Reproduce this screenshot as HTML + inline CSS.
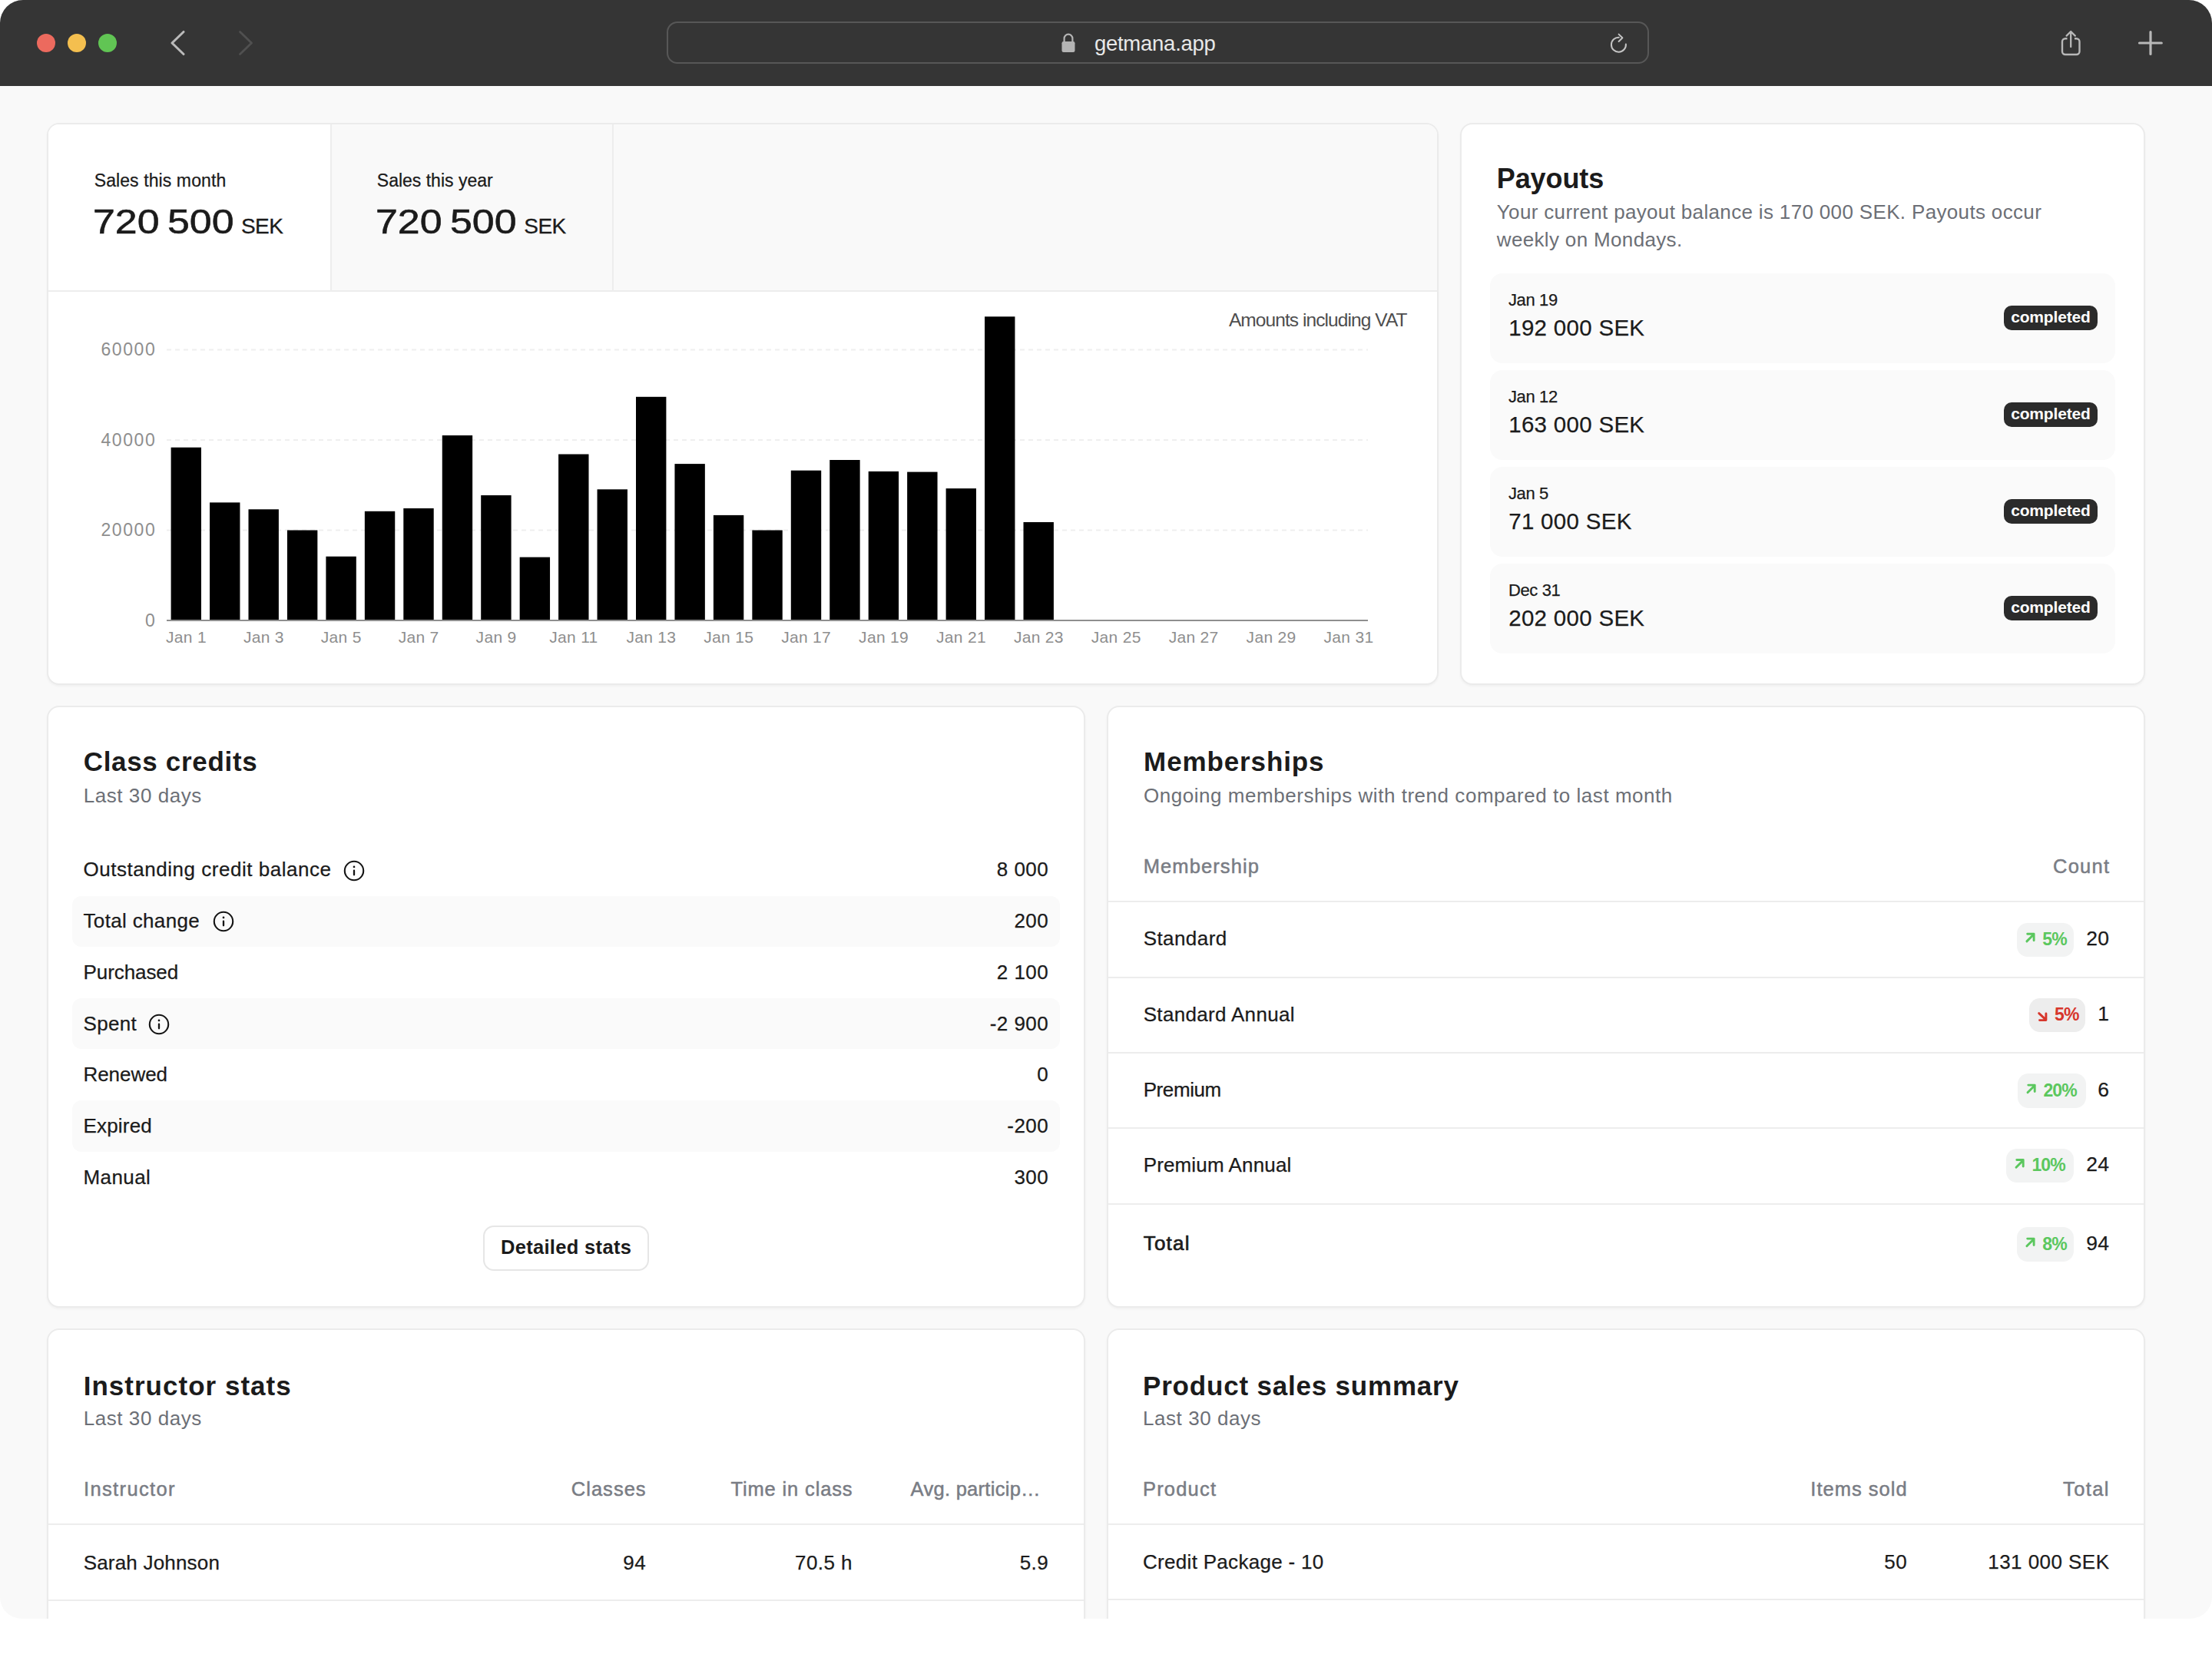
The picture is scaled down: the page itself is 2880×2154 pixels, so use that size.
<!DOCTYPE html>
<html><head><meta charset="utf-8"><title>getmana.app</title>
<style>
html,body{margin:0;padding:0;background:#ffffff;}
body{width:2880px;height:2154px;overflow:hidden;position:relative;font-family:"Liberation Sans", Arial, sans-serif;}
#win{position:absolute;left:0;top:0;width:2880px;height:2108px;overflow:hidden;border-radius:30px 30px 28px 28px;background:#f9f9f9;}
#win div, #win span, #win svg{position:absolute;}
.t{white-space:nowrap;}
</style></head><body><div id="win">
<div style="left:0px;top:0px;width:2880px;height:112px;background:#353535;"></div>
<div style="left:48px;top:44px;width:24px;height:24px;background:#ec6a5e;border-radius:50%;"></div>
<div style="left:88px;top:44px;width:24px;height:24px;background:#f4bf4f;border-radius:50%;"></div>
<div style="left:128px;top:44px;width:24px;height:24px;background:#61c554;border-radius:50%;"></div>
<svg style="left:0;top:0" width="400" height="112" viewBox="0 0 400 112"><polyline points="239,41.5 224,56 239,70.5" fill="none" stroke="#bababa" stroke-width="3.1" stroke-linecap="round" stroke-linejoin="round"/><polyline points="312.5,41.5 327.5,56 312.5,70.5" fill="none" stroke="#505050" stroke-width="2.8" stroke-linecap="round" stroke-linejoin="round"/></svg>
<div style="left:868px;top:28px;width:1279px;height:55px;box-sizing:border-box;border:2px solid #575757;border-radius:14px;"></div>
<svg style="left:1376px;top:40px" width="30" height="32" viewBox="1376 40 30 32"><path d="M1385.6,54.5 V50 a5.4,5.4 0 0 1 10.8,0 V54.5" fill="none" stroke="#b4b4b4" stroke-width="2.2"/><rect x="1382.5" y="54" width="17" height="14" rx="2.2" fill="#b4b4b4"/></svg>
<span class="t" style="left:1424.90px;top:39.87px;font-size:27.5px;line-height:34px;color:#e8e8e8;font-weight:400;letter-spacing:-0.254px;">getmana.app</span>
<svg style="left:2090px;top:38px" width="36" height="36" viewBox="2090 38 36 36"><path d="M2116.9,57.5 A9.5,9.5 0 1 1 2107.8,48.7" fill="none" stroke="#c4c4c4" stroke-width="2" stroke-linecap="round"/><polyline points="2107.6,44.6 2112.4,49.2 2107.6,54" fill="none" stroke="#c4c4c4" stroke-width="2" stroke-linecap="round" stroke-linejoin="round"/></svg>
<svg style="left:2676px;top:34px" width="40" height="44" viewBox="2676 34 40 44"><path d="M2691.5,50.2 H2689 a4,4 0 0 0 -4,4 V67 a4,4 0 0 0 4,4 H2703.5 a4,4 0 0 0 4,-4 V54.2 a4,4 0 0 0 -4,-4 H2701" fill="none" stroke="#b8b8b8" stroke-width="2.4"/><path d="M2696.2,61 V41.5 M2690.6,46.6 L2696.2,41 L2701.8,46.6" fill="none" stroke="#b8b8b8" stroke-width="2.3" stroke-linecap="round" stroke-linejoin="round"/></svg>
<svg style="left:2776px;top:34px" width="48" height="44" viewBox="2776 34 48 44"><path d="M2785.5,56 H2814.3 M2800,41.5 V70.5" fill="none" stroke="#b8b8b8" stroke-width="3.2" stroke-linecap="round"/></svg>
<div style="left:61px;top:160px;width:1812px;height:732px;box-sizing:border-box;background:#fff;border:2px solid #ebebeb;border-radius:16px;box-shadow:0 2px 3px rgba(0,0,0,0.035);"></div>
<div style="left:63px;top:162px;width:1808px;height:216px;background:#f9f9f9;border-radius:14px 14px 0 0;"></div>
<div style="left:63px;top:162px;width:367px;height:216px;background:#fff;border-radius:14px 0 0 0;"></div>
<div style="left:430px;top:162px;width:2px;height:216px;background:#ededed;"></div>
<div style="left:797px;top:162px;width:2px;height:216px;background:#ededed;"></div>
<div style="left:63px;top:378px;width:1808px;height:2px;background:#ededed;"></div>
<span class="t" style="left:122.70px;top:221.03px;font-size:23px;line-height:29px;color:#1b1b1b;font-weight:400;letter-spacing:0.098px;-webkit-text-stroke-width:0.25px;">Sales this month</span>
<span class="t" style="left:490.80px;top:221.03px;font-size:23px;line-height:29px;color:#1b1b1b;font-weight:400;-webkit-text-stroke-width:0.25px;">Sales this year</span>
<span class="t" style="left:120.70px;top:261.10px;font-size:45px;line-height:56px;color:#1b1b1b;font-weight:400;-webkit-text-stroke:0.6px #1b1b1b;transform:scaleX(1.153);transform-origin:0 0;word-spacing:-3.5px;">720 500</span>
<span class="t" style="left:314.00px;top:277.49px;font-size:28px;line-height:35px;color:#1b1b1b;font-weight:400;letter-spacing:-0.564px;-webkit-text-stroke:0.3px #1b1b1b;">SEK</span>
<span class="t" style="left:488.70px;top:261.10px;font-size:45px;line-height:56px;color:#1b1b1b;font-weight:400;-webkit-text-stroke:0.6px #1b1b1b;transform:scaleX(1.153);transform-origin:0 0;word-spacing:-3.5px;">720 500</span>
<span class="t" style="left:682.30px;top:277.49px;font-size:28px;line-height:35px;color:#1b1b1b;font-weight:400;letter-spacing:-0.564px;-webkit-text-stroke:0.3px #1b1b1b;">SEK</span>
<span class="t" style="left:1599.90px;top:400.81px;font-size:24.5px;line-height:31px;color:#4e4e4e;font-weight:400;letter-spacing:-0.921px;">Amounts including VAT</span>
<svg style="left:0;top:0" width="1880" height="900" viewBox="0 0 1880 900"><line x1="217" y1="455.5" x2="1781" y2="455.5" stroke="#efefef" stroke-width="2" stroke-dasharray="6 5"/><line x1="217" y1="573.0" x2="1781" y2="573.0" stroke="#efefef" stroke-width="2" stroke-dasharray="6 5"/><line x1="217" y1="690.5" x2="1781" y2="690.5" stroke="#efefef" stroke-width="2" stroke-dasharray="6 5"/><rect x="222.60" y="582.7" width="39.4" height="224.3" fill="#000"/><rect x="273.05" y="654.4" width="39.4" height="152.6" fill="#000"/><rect x="323.50" y="663.3" width="39.4" height="143.7" fill="#000"/><rect x="373.95" y="690.5" width="39.4" height="116.5" fill="#000"/><rect x="424.40" y="724.7" width="39.4" height="82.3" fill="#000"/><rect x="474.85" y="665.8" width="39.4" height="141.2" fill="#000"/><rect x="525.30" y="662.0" width="39.4" height="145.0" fill="#000"/><rect x="575.75" y="567.0" width="39.4" height="240.0" fill="#000"/><rect x="626.20" y="645.0" width="39.4" height="162.0" fill="#000"/><rect x="676.65" y="725.6" width="39.4" height="81.4" fill="#000"/><rect x="727.10" y="591.5" width="39.4" height="215.5" fill="#000"/><rect x="777.55" y="637.3" width="39.4" height="169.7" fill="#000"/><rect x="828.00" y="516.8" width="39.4" height="290.2" fill="#000"/><rect x="878.45" y="604.1" width="39.4" height="202.9" fill="#000"/><rect x="928.90" y="670.9" width="39.4" height="136.1" fill="#000"/><rect x="979.35" y="690.5" width="39.4" height="116.5" fill="#000"/><rect x="1029.80" y="612.7" width="39.4" height="194.3" fill="#000"/><rect x="1080.25" y="599.0" width="39.4" height="208.0" fill="#000"/><rect x="1130.70" y="613.9" width="39.4" height="193.1" fill="#000"/><rect x="1181.15" y="614.6" width="39.4" height="192.4" fill="#000"/><rect x="1231.60" y="636.1" width="39.4" height="170.9" fill="#000"/><rect x="1282.05" y="412.3" width="39.4" height="394.7" fill="#000"/><rect x="1332.50" y="680.0" width="39.4" height="127.0" fill="#000"/><rect x="217" y="807" width="1564" height="2" fill="#8f8f8f"/></svg>
<span class="t" style="left:131.50px;top:441.03px;font-size:23px;line-height:29px;color:#8e8e8e;font-weight:400;letter-spacing:1.561px;">60000</span>
<span class="t" style="left:131.50px;top:558.53px;font-size:23px;line-height:29px;color:#8e8e8e;font-weight:400;letter-spacing:1.561px;">40000</span>
<span class="t" style="left:131.50px;top:676.03px;font-size:23px;line-height:29px;color:#8e8e8e;font-weight:400;letter-spacing:1.561px;">20000</span>
<span class="t" style="left:188.91px;top:793.53px;font-size:23px;line-height:29px;color:#8e8e8e;font-weight:400;">0</span>
<span class="t" style="left:216.01px;top:817.22px;font-size:21px;line-height:26px;color:#8e8e8e;font-weight:400;letter-spacing:0.300px;">Jan 1</span>
<span class="t" style="left:316.91px;top:817.22px;font-size:21px;line-height:26px;color:#8e8e8e;font-weight:400;letter-spacing:0.300px;">Jan 3</span>
<span class="t" style="left:417.81px;top:817.22px;font-size:21px;line-height:26px;color:#8e8e8e;font-weight:400;letter-spacing:0.300px;">Jan 5</span>
<span class="t" style="left:518.71px;top:817.22px;font-size:21px;line-height:26px;color:#8e8e8e;font-weight:400;letter-spacing:0.300px;">Jan 7</span>
<span class="t" style="left:619.61px;top:817.22px;font-size:21px;line-height:26px;color:#8e8e8e;font-weight:400;letter-spacing:0.300px;">Jan 9</span>
<span class="t" style="left:715.30px;top:817.22px;font-size:21px;line-height:26px;color:#8e8e8e;font-weight:400;letter-spacing:0.300px;">Jan 11</span>
<span class="t" style="left:815.42px;top:817.22px;font-size:21px;line-height:26px;color:#8e8e8e;font-weight:400;letter-spacing:0.300px;">Jan 13</span>
<span class="t" style="left:916.32px;top:817.22px;font-size:21px;line-height:26px;color:#8e8e8e;font-weight:400;letter-spacing:0.300px;">Jan 15</span>
<span class="t" style="left:1017.22px;top:817.22px;font-size:21px;line-height:26px;color:#8e8e8e;font-weight:400;letter-spacing:0.300px;">Jan 17</span>
<span class="t" style="left:1118.12px;top:817.22px;font-size:21px;line-height:26px;color:#8e8e8e;font-weight:400;letter-spacing:0.300px;">Jan 19</span>
<span class="t" style="left:1219.02px;top:817.22px;font-size:21px;line-height:26px;color:#8e8e8e;font-weight:400;letter-spacing:0.300px;">Jan 21</span>
<span class="t" style="left:1319.92px;top:817.22px;font-size:21px;line-height:26px;color:#8e8e8e;font-weight:400;letter-spacing:0.300px;">Jan 23</span>
<span class="t" style="left:1420.82px;top:817.22px;font-size:21px;line-height:26px;color:#8e8e8e;font-weight:400;letter-spacing:0.300px;">Jan 25</span>
<span class="t" style="left:1521.72px;top:817.22px;font-size:21px;line-height:26px;color:#8e8e8e;font-weight:400;letter-spacing:0.300px;">Jan 27</span>
<span class="t" style="left:1622.62px;top:817.22px;font-size:21px;line-height:26px;color:#8e8e8e;font-weight:400;letter-spacing:0.300px;">Jan 29</span>
<span class="t" style="left:1723.52px;top:817.22px;font-size:21px;line-height:26px;color:#8e8e8e;font-weight:400;letter-spacing:0.300px;">Jan 31</span>
<div style="left:1901px;top:160px;width:892px;height:732px;box-sizing:border-box;background:#fff;border:2px solid #ebebeb;border-radius:16px;box-shadow:0 2px 3px rgba(0,0,0,0.035);"></div>
<span class="t" style="left:1948.80px;top:210.02px;font-size:36px;line-height:45px;color:#1b1b1b;font-weight:700;letter-spacing:-0.107px;">Payouts</span>
<span class="t" style="left:1948.80px;top:260.39px;font-size:26px;line-height:32px;color:#6c6f76;font-weight:400;letter-spacing:0.341px;">Your current payout balance is 170 000 SEK. Payouts occur</span>
<span class="t" style="left:1948.80px;top:296.49px;font-size:26px;line-height:32px;color:#6c6f76;font-weight:400;letter-spacing:0.340px;">weekly on Mondays.</span>
<div style="left:1939.5px;top:355.5px;width:814.0px;height:117.30000000000001px;background:#fafafa;border-radius:16px;"></div>
<span class="t" style="left:1963.90px;top:376.77px;font-size:22px;line-height:28px;color:#1b1b1b;font-weight:400;letter-spacing:-0.350px;-webkit-text-stroke-width:0.25px;">Jan 19</span>
<span class="t" style="left:1964.20px;top:408.07px;font-size:29.5px;line-height:37px;color:#1b1b1b;font-weight:400;letter-spacing:0.300px;-webkit-text-stroke:0.25px #1b1b1b;">192 000 SEK</span>
<div style="left:2609px;top:398.25px;width:122px;height:31.5px;background:#2b2b2b;border-radius:10px;"></div>
<span class="t" style="left:2618.20px;top:400.17px;font-size:21px;line-height:26px;color:#ffffff;font-weight:700;letter-spacing:-0.178px;">completed</span>
<div style="left:1939.5px;top:481.6px;width:814.0px;height:117.29999999999995px;background:#fafafa;border-radius:16px;"></div>
<span class="t" style="left:1963.90px;top:502.84px;font-size:22px;line-height:28px;color:#1b1b1b;font-weight:400;letter-spacing:-0.350px;-webkit-text-stroke-width:0.25px;">Jan 12</span>
<span class="t" style="left:1964.20px;top:534.14px;font-size:29.5px;line-height:37px;color:#1b1b1b;font-weight:400;letter-spacing:0.300px;-webkit-text-stroke:0.25px #1b1b1b;">163 000 SEK</span>
<div style="left:2609px;top:524.32px;width:122px;height:31.5px;background:#2b2b2b;border-radius:10px;"></div>
<span class="t" style="left:2618.20px;top:526.24px;font-size:21px;line-height:26px;color:#ffffff;font-weight:700;letter-spacing:-0.178px;">completed</span>
<div style="left:1939.5px;top:607.6px;width:814.0px;height:117.29999999999995px;background:#fafafa;border-radius:16px;"></div>
<span class="t" style="left:1963.90px;top:628.91px;font-size:22px;line-height:28px;color:#1b1b1b;font-weight:400;letter-spacing:-0.350px;-webkit-text-stroke-width:0.25px;">Jan 5</span>
<span class="t" style="left:1964.20px;top:660.21px;font-size:29.5px;line-height:37px;color:#1b1b1b;font-weight:400;letter-spacing:0.300px;-webkit-text-stroke:0.25px #1b1b1b;">71 000 SEK</span>
<div style="left:2609px;top:650.39px;width:122px;height:31.5px;background:#2b2b2b;border-radius:10px;"></div>
<span class="t" style="left:2618.20px;top:652.31px;font-size:21px;line-height:26px;color:#ffffff;font-weight:700;letter-spacing:-0.178px;">completed</span>
<div style="left:1939.5px;top:733.7px;width:814.0px;height:117.29999999999995px;background:#fafafa;border-radius:16px;"></div>
<span class="t" style="left:1963.90px;top:754.98px;font-size:22px;line-height:28px;color:#1b1b1b;font-weight:400;letter-spacing:-0.350px;-webkit-text-stroke-width:0.25px;">Dec 31</span>
<span class="t" style="left:1964.20px;top:786.28px;font-size:29.5px;line-height:37px;color:#1b1b1b;font-weight:400;letter-spacing:0.300px;-webkit-text-stroke:0.25px #1b1b1b;">202 000 SEK</span>
<div style="left:2609px;top:776.46px;width:122px;height:31.5px;background:#2b2b2b;border-radius:10px;"></div>
<span class="t" style="left:2618.20px;top:778.38px;font-size:21px;line-height:26px;color:#ffffff;font-weight:700;letter-spacing:-0.178px;">completed</span>
<div style="left:61px;top:919px;width:1352px;height:784px;box-sizing:border-box;background:#fff;border:2px solid #ebebeb;border-radius:16px;box-shadow:0 2px 3px rgba(0,0,0,0.035);"></div>
<span class="t" style="left:108.70px;top:969.97px;font-size:35px;line-height:44px;color:#1b1b1b;font-weight:700;letter-spacing:0.675px;">Class credits</span>
<span class="t" style="left:108.70px;top:1020.29px;font-size:26px;line-height:32px;color:#6c6f76;font-weight:400;letter-spacing:0.561px;">Last 30 days</span>
<span class="t" style="left:108.50px;top:1116.49px;font-size:26px;line-height:32px;color:#1b1b1b;font-weight:400;letter-spacing:0.528px;-webkit-text-stroke-width:0.25px;">Outstanding credit balance</span>
<span class="t" style="left:1297.84px;top:1116.49px;font-size:26px;line-height:32px;color:#1b1b1b;font-weight:400;letter-spacing:0.450px;-webkit-text-stroke-width:0.25px;">8 000</span>
<svg style="left:445.2px;top:1117.6px" width="32" height="32" viewBox="0 0 32 32"><circle cx="16" cy="16" r="12.2" fill="none" stroke="#141414" stroke-width="2.1"/><circle cx="16" cy="10.9" r="1.35" fill="#141414"/><line x1="16" y1="15.7" x2="16" y2="21.3" stroke="#141414" stroke-width="2.3" stroke-linecap="round"/></svg>
<div style="left:94px;top:1166.7px;width:1286px;height:66.29999999999995px;background:#fafafa;border-radius:12px;"></div>
<span class="t" style="left:108.50px;top:1183.16px;font-size:26px;line-height:32px;color:#1b1b1b;font-weight:400;letter-spacing:0.342px;-webkit-text-stroke-width:0.25px;">Total change</span>
<span class="t" style="left:1320.42px;top:1183.16px;font-size:26px;line-height:32px;color:#1b1b1b;font-weight:400;letter-spacing:0.450px;-webkit-text-stroke-width:0.25px;">200</span>
<svg style="left:274.6px;top:1184.3px" width="32" height="32" viewBox="0 0 32 32"><circle cx="16" cy="16" r="12.2" fill="none" stroke="#141414" stroke-width="2.1"/><circle cx="16" cy="10.9" r="1.35" fill="#141414"/><line x1="16" y1="15.7" x2="16" y2="21.3" stroke="#141414" stroke-width="2.3" stroke-linecap="round"/></svg>
<span class="t" style="left:108.50px;top:1249.83px;font-size:26px;line-height:32px;color:#1b1b1b;font-weight:400;letter-spacing:-0.075px;-webkit-text-stroke-width:0.25px;">Purchased</span>
<span class="t" style="left:1297.84px;top:1249.83px;font-size:26px;line-height:32px;color:#1b1b1b;font-weight:400;letter-spacing:0.450px;-webkit-text-stroke-width:0.25px;">2 100</span>
<div style="left:94px;top:1300.0px;width:1286px;height:66.29999999999995px;background:#fafafa;border-radius:12px;"></div>
<span class="t" style="left:108.50px;top:1316.50px;font-size:26px;line-height:32px;color:#1b1b1b;font-weight:400;letter-spacing:0.339px;-webkit-text-stroke-width:0.25px;">Spent</span>
<span class="t" style="left:1288.73px;top:1316.50px;font-size:26px;line-height:32px;color:#1b1b1b;font-weight:400;letter-spacing:0.450px;-webkit-text-stroke-width:0.25px;">-2 900</span>
<svg style="left:191.4px;top:1317.6px" width="32" height="32" viewBox="0 0 32 32"><circle cx="16" cy="16" r="12.2" fill="none" stroke="#141414" stroke-width="2.1"/><circle cx="16" cy="10.9" r="1.35" fill="#141414"/><line x1="16" y1="15.7" x2="16" y2="21.3" stroke="#141414" stroke-width="2.3" stroke-linecap="round"/></svg>
<span class="t" style="left:108.50px;top:1383.17px;font-size:26px;line-height:32px;color:#1b1b1b;font-weight:400;letter-spacing:-0.059px;-webkit-text-stroke-width:0.25px;">Renewed</span>
<span class="t" style="left:1350.24px;top:1383.17px;font-size:26px;line-height:32px;color:#1b1b1b;font-weight:400;letter-spacing:0.450px;-webkit-text-stroke-width:0.25px;">0</span>
<div style="left:94px;top:1433.3px;width:1286px;height:66.29999999999995px;background:#fafafa;border-radius:12px;"></div>
<span class="t" style="left:108.50px;top:1449.84px;font-size:26px;line-height:32px;color:#1b1b1b;font-weight:400;letter-spacing:0.191px;-webkit-text-stroke-width:0.25px;">Expired</span>
<span class="t" style="left:1311.31px;top:1449.84px;font-size:26px;line-height:32px;color:#1b1b1b;font-weight:400;letter-spacing:0.450px;-webkit-text-stroke-width:0.25px;">-200</span>
<span class="t" style="left:108.50px;top:1516.51px;font-size:26px;line-height:32px;color:#1b1b1b;font-weight:400;letter-spacing:0.405px;-webkit-text-stroke-width:0.25px;">Manual</span>
<span class="t" style="left:1320.42px;top:1516.51px;font-size:26px;line-height:32px;color:#1b1b1b;font-weight:400;letter-spacing:0.450px;-webkit-text-stroke-width:0.25px;">300</span>
<div style="left:628.6px;top:1595.8px;width:216.39999999999998px;height:58.90000000000009px;box-sizing:border-box;border:2px solid #e6e6e6;border-radius:14px;background:#fff;"></div>
<span class="t" style="left:651.90px;top:1608.36px;font-size:25.5px;line-height:32px;color:#1b1b1b;font-weight:700;letter-spacing:0.322px;">Detailed stats</span>
<div style="left:1441px;top:919px;width:1352px;height:784px;box-sizing:border-box;background:#fff;border:2px solid #ebebeb;border-radius:16px;box-shadow:0 2px 3px rgba(0,0,0,0.035);"></div>
<span class="t" style="left:1489.10px;top:970.07px;font-size:35px;line-height:44px;color:#1b1b1b;font-weight:700;letter-spacing:0.878px;">Memberships</span>
<span class="t" style="left:1489.00px;top:1019.59px;font-size:26px;line-height:32px;color:#6c6f76;font-weight:400;letter-spacing:0.536px;">Ongoing memberships with trend compared to last month</span>
<span class="t" style="left:1488.70px;top:1112.26px;font-size:25.5px;line-height:32px;color:#797c84;font-weight:400;letter-spacing:1.100px;-webkit-text-stroke-width:0.5px;">Membership</span>
<span class="t" style="left:2673.00px;top:1112.26px;font-size:25.5px;line-height:32px;color:#797c84;font-weight:400;letter-spacing:1.239px;-webkit-text-stroke-width:0.5px;">Count</span>
<div style="left:1443px;top:1172.5px;width:1348px;height:2.0px;background:#ededed;"></div>
<div style="left:1443px;top:1271.5px;width:1348px;height:2.0px;background:#ededed;"></div>
<div style="left:1443px;top:1369.5px;width:1348px;height:2.0px;background:#ededed;"></div>
<div style="left:1443px;top:1468px;width:1348px;height:2px;background:#ededed;"></div>
<div style="left:1443px;top:1566.6px;width:1348px;height:2.0px;background:#ededed;"></div>
<span class="t" style="left:1488.70px;top:1206.49px;font-size:26px;line-height:32px;color:#1b1b1b;font-weight:400;letter-spacing:0.425px;-webkit-text-stroke-width:0.25px;">Standard</span>
<div style="left:2625.7px;top:1201.5px;width:74.30000000000018px;height:44.5px;background:#f2f3f3;border-radius:14px;"></div>
<svg style="left:0;top:0;overflow:visible" width="1" height="1"><path d="M2638.9,1225.9 L2647.5,1217.3 M2639.7,1216.2 H2648.1 V1224.7" fill="none" stroke="#5bc75e" stroke-width="2.9" stroke-linecap="round" stroke-linejoin="round"/></svg>
<span class="t" style="left:2659.30px;top:1208.83px;font-size:23px;line-height:29px;color:#5bc75e;font-weight:700;letter-spacing:-0.900px;">5%</span>
<span class="t" style="left:2716.22px;top:1205.81px;font-size:26.5px;line-height:33px;color:#1b1b1b;font-weight:400;letter-spacing:0.300px;-webkit-text-stroke-width:0.25px;">20</span>
<span class="t" style="left:1488.70px;top:1304.59px;font-size:26px;line-height:32px;color:#1b1b1b;font-weight:400;letter-spacing:0.328px;-webkit-text-stroke-width:0.25px;">Standard Annual</span>
<div style="left:2641.5px;top:1299.6px;width:73.5px;height:44.5px;background:#ededed;border-radius:14px;"></div>
<svg style="left:0;top:0;overflow:visible" width="1" height="1"><path d="M2654.7,1319.6 L2663.3,1327.6 M2655.5,1328.6 H2663.9 V1320.0" fill="none" stroke="#d7362c" stroke-width="2.9" stroke-linecap="round" stroke-linejoin="round"/></svg>
<span class="t" style="left:2675.10px;top:1306.93px;font-size:23px;line-height:29px;color:#d7362c;font-weight:700;letter-spacing:-0.900px;">5%</span>
<span class="t" style="left:2731.26px;top:1303.91px;font-size:26.5px;line-height:33px;color:#1b1b1b;font-weight:400;letter-spacing:0.300px;-webkit-text-stroke-width:0.25px;">1</span>
<span class="t" style="left:1488.70px;top:1403.39px;font-size:26px;line-height:32px;color:#1b1b1b;font-weight:400;letter-spacing:-0.419px;-webkit-text-stroke-width:0.25px;">Premium</span>
<div style="left:2626.8px;top:1398.4px;width:88.89999999999964px;height:44.5px;background:#f2f3f3;border-radius:14px;"></div>
<svg style="left:0;top:0;overflow:visible" width="1" height="1"><path d="M2640.0,1422.8 L2648.6,1414.2 M2640.8,1413.1 H2649.2 V1421.6" fill="none" stroke="#5bc75e" stroke-width="2.9" stroke-linecap="round" stroke-linejoin="round"/></svg>
<span class="t" style="left:2660.40px;top:1405.73px;font-size:23px;line-height:29px;color:#5bc75e;font-weight:700;letter-spacing:-0.900px;">20%</span>
<span class="t" style="left:2731.26px;top:1402.71px;font-size:26.5px;line-height:33px;color:#1b1b1b;font-weight:400;letter-spacing:0.300px;-webkit-text-stroke-width:0.25px;">6</span>
<span class="t" style="left:1488.70px;top:1500.79px;font-size:26px;line-height:32px;color:#1b1b1b;font-weight:400;letter-spacing:0.139px;-webkit-text-stroke-width:0.25px;">Premium Annual</span>
<div style="left:2611.8px;top:1495.8px;width:87.89999999999964px;height:44.5px;background:#f2f3f3;border-radius:14px;"></div>
<svg style="left:0;top:0;overflow:visible" width="1" height="1"><path d="M2625.0,1520.2 L2633.6,1511.6 M2625.8,1510.5 H2634.2 V1519.0" fill="none" stroke="#5bc75e" stroke-width="2.9" stroke-linecap="round" stroke-linejoin="round"/></svg>
<span class="t" style="left:2645.40px;top:1503.13px;font-size:23px;line-height:29px;color:#5bc75e;font-weight:700;letter-spacing:-0.900px;">10%</span>
<span class="t" style="left:2716.22px;top:1500.11px;font-size:26.5px;line-height:33px;color:#1b1b1b;font-weight:400;letter-spacing:0.300px;-webkit-text-stroke-width:0.25px;">24</span>
<span class="t" style="left:1488.70px;top:1603.39px;font-size:26px;line-height:32px;color:#1b1b1b;font-weight:400;letter-spacing:1.220px;-webkit-text-stroke:0.7px #1b1b1b;">Total</span>
<div style="left:2625.7px;top:1598.4px;width:74.0px;height:44.5px;background:#f2f3f3;border-radius:14px;"></div>
<svg style="left:0;top:0;overflow:visible" width="1" height="1"><path d="M2638.9,1622.8 L2647.5,1614.2 M2639.7,1613.1 H2648.1 V1621.6" fill="none" stroke="#5bc75e" stroke-width="2.9" stroke-linecap="round" stroke-linejoin="round"/></svg>
<span class="t" style="left:2659.30px;top:1605.73px;font-size:23px;line-height:29px;color:#5bc75e;font-weight:700;letter-spacing:-0.900px;">8%</span>
<span class="t" style="left:2716.22px;top:1602.71px;font-size:26.5px;line-height:33px;color:#1b1b1b;font-weight:400;letter-spacing:0.300px;-webkit-text-stroke-width:0.25px;">94</span>
<div style="left:61px;top:1730px;width:1352px;height:470px;box-sizing:border-box;background:#fff;border:2px solid #ebebeb;border-radius:16px;box-shadow:0 2px 3px rgba(0,0,0,0.035);"></div>
<span class="t" style="left:108.70px;top:1782.87px;font-size:35px;line-height:44px;color:#1b1b1b;font-weight:700;letter-spacing:1.015px;">Instructor stats</span>
<span class="t" style="left:108.70px;top:1831.29px;font-size:26px;line-height:32px;color:#6c6f76;font-weight:400;letter-spacing:0.561px;">Last 30 days</span>
<span class="t" style="left:109.00px;top:1923.16px;font-size:25.5px;line-height:32px;color:#797c84;font-weight:400;letter-spacing:1.357px;-webkit-text-stroke-width:0.5px;">Instructor</span>
<span class="t" style="left:743.80px;top:1923.16px;font-size:25.5px;line-height:32px;color:#797c84;font-weight:400;letter-spacing:1.018px;-webkit-text-stroke-width:0.5px;">Classes</span>
<span class="t" style="left:951.40px;top:1923.16px;font-size:25.5px;line-height:32px;color:#797c84;font-weight:400;letter-spacing:0.864px;-webkit-text-stroke-width:0.5px;">Time in class</span>
<span class="t" style="left:1185.60px;top:1923.16px;font-size:25.5px;line-height:32px;color:#797c84;font-weight:400;letter-spacing:0.281px;-webkit-text-stroke-width:0.5px;">Avg. particip…</span>
<div style="left:63px;top:1983.5px;width:1348px;height:2.0px;background:#ededed;"></div>
<span class="t" style="left:108.70px;top:2018.69px;font-size:26px;line-height:32px;color:#1b1b1b;font-weight:400;letter-spacing:0.191px;-webkit-text-stroke-width:0.25px;">Sarah Johnson</span>
<span class="t" style="left:811.23px;top:2018.69px;font-size:26px;line-height:32px;color:#1b1b1b;font-weight:400;letter-spacing:0.450px;-webkit-text-stroke-width:0.25px;">94</span>
<span class="t" style="left:1035.06px;top:2018.69px;font-size:26px;line-height:32px;color:#1b1b1b;font-weight:400;letter-spacing:0.450px;-webkit-text-stroke-width:0.25px;">70.5 h</span>
<span class="t" style="left:1327.66px;top:2018.69px;font-size:26px;line-height:32px;color:#1b1b1b;font-weight:400;letter-spacing:0.450px;-webkit-text-stroke-width:0.25px;">5.9</span>
<div style="left:63px;top:2082.5px;width:1348px;height:2.0px;background:#ededed;"></div>
<div style="left:1441px;top:1730px;width:1352px;height:470px;box-sizing:border-box;background:#fff;border:2px solid #ebebeb;border-radius:16px;box-shadow:0 2px 3px rgba(0,0,0,0.035);"></div>
<span class="t" style="left:1488.00px;top:1782.67px;font-size:35px;line-height:44px;color:#1b1b1b;font-weight:700;letter-spacing:0.805px;">Product sales summary</span>
<span class="t" style="left:1488.00px;top:1831.09px;font-size:26px;line-height:32px;color:#6c6f76;font-weight:400;letter-spacing:0.561px;">Last 30 days</span>
<span class="t" style="left:1488.00px;top:1923.16px;font-size:25.5px;line-height:32px;color:#797c84;font-weight:400;letter-spacing:1.187px;-webkit-text-stroke-width:0.5px;">Product</span>
<span class="t" style="left:2357.30px;top:1923.16px;font-size:25.5px;line-height:32px;color:#797c84;font-weight:400;letter-spacing:1.021px;-webkit-text-stroke-width:0.5px;">Items sold</span>
<span class="t" style="left:2686.00px;top:1923.16px;font-size:25.5px;line-height:32px;color:#797c84;font-weight:400;letter-spacing:1.409px;-webkit-text-stroke-width:0.5px;">Total</span>
<div style="left:1443px;top:1984px;width:1348px;height:2px;background:#ededed;"></div>
<span class="t" style="left:1488.00px;top:2018.49px;font-size:26px;line-height:32px;color:#1b1b1b;font-weight:400;letter-spacing:0.300px;-webkit-text-stroke-width:0.25px;">Credit Package - 10</span>
<span class="t" style="left:2453.33px;top:2018.49px;font-size:26px;line-height:32px;color:#1b1b1b;font-weight:400;letter-spacing:0.450px;-webkit-text-stroke-width:0.25px;">50</span>
<span class="t" style="left:2588.27px;top:2018.49px;font-size:26px;line-height:32px;color:#1b1b1b;font-weight:400;letter-spacing:0.450px;-webkit-text-stroke-width:0.25px;">131 000 SEK</span>
<div style="left:1443px;top:2082px;width:1348px;height:2px;background:#ededed;"></div>
</div></body></html>
